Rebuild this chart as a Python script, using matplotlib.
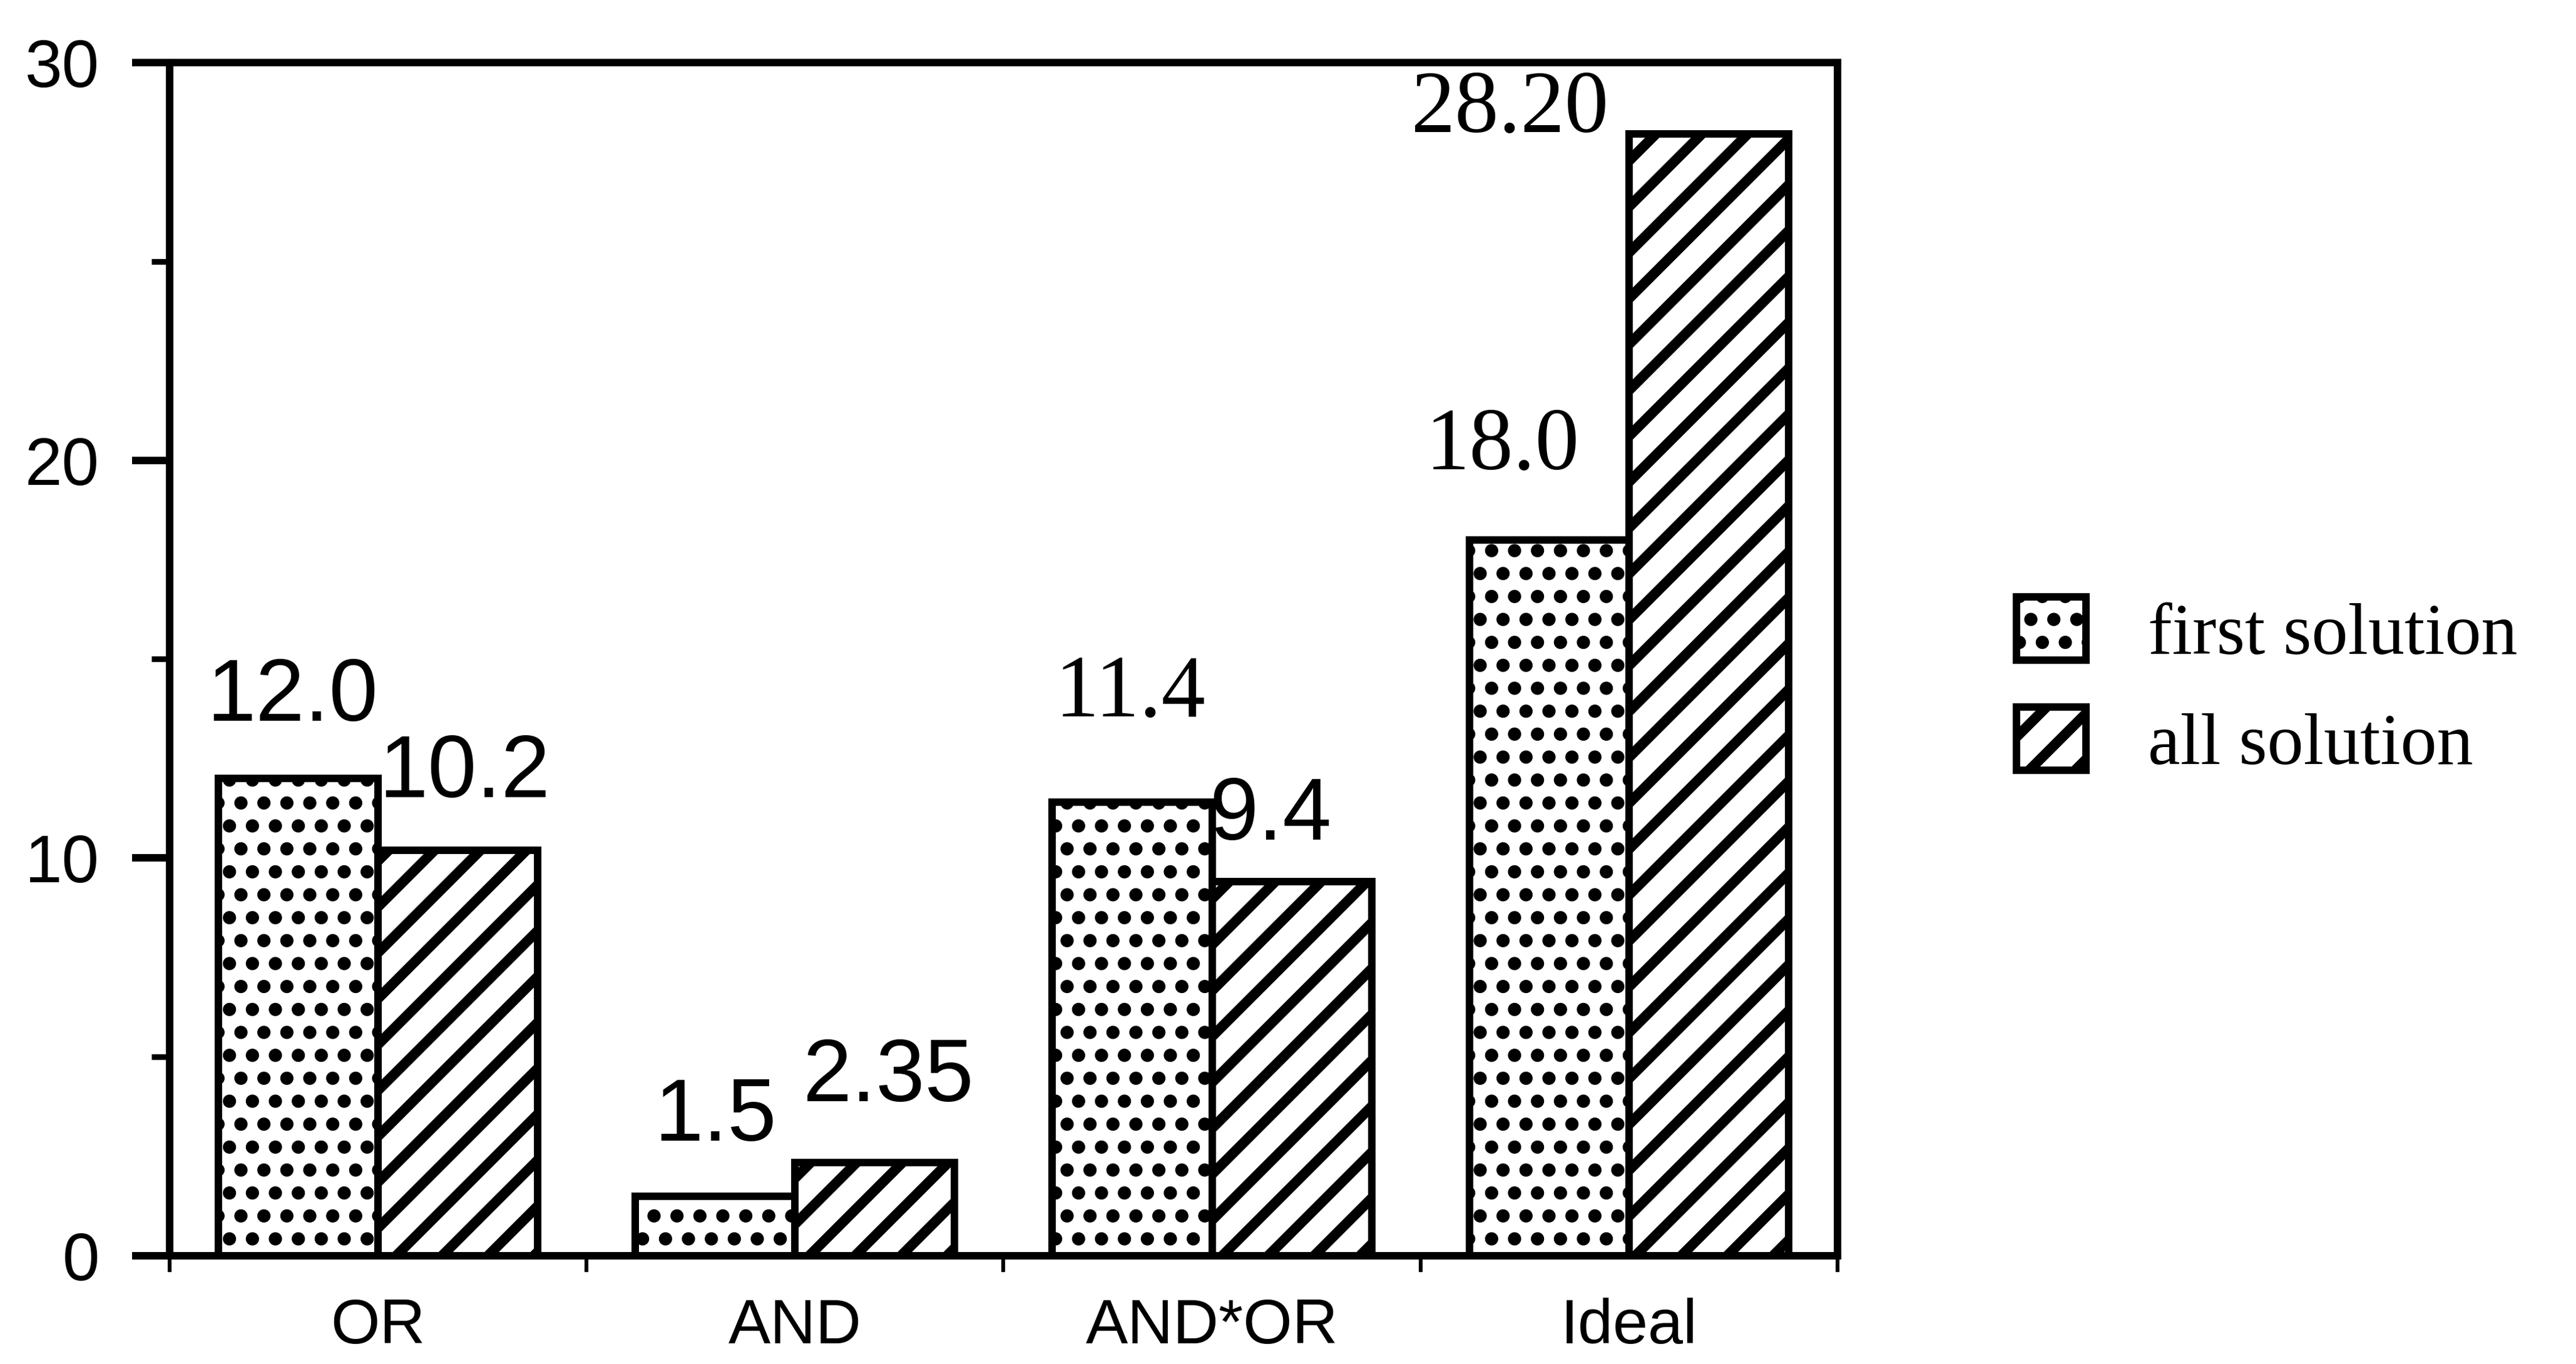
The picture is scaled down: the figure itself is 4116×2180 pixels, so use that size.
import numpy as np
import matplotlib
matplotlib.use("Agg")
import matplotlib.pyplot as plt
from matplotlib.ticker import MultipleLocator

categories = ["OR", "AND", "AND*OR", "Ideal"]
first_solution = [12.0, 1.5, 11.4, 18.0]
all_solution = [10.2, 2.35, 9.4, 28.2]
first_decimals = [1, 1, 1, 1]
all_decimals = [1, 2, 1, 2]
y_ticks = [0, 10, 20, 30]

# label placement: (dx, dy) in points from the top centre of each bar, and typeface
first_offsets = [(-3, 30), (0, 29), (-1, 45), (-24.5, 37)]
all_offsets = [(3.6, 27.5), (7, 32), (-11, 22), (-104, 1)]
first_fonts = ["Liberation Sans", "Liberation Sans", "Liberation Serif", "Liberation Serif"]
all_fonts = ["Liberation Sans", "Liberation Sans", "Liberation Sans", "Liberation Serif"]

DPI = 220
plt.rcParams["hatch.color"] = "black"

fig = plt.figure(figsize=(4116 / DPI, 2180 / DPI), dpi=DPI)
ax = fig.add_axes([0.0658, 0.0794, 0.6475, 0.8748])

x = np.arange(len(categories))
w = 0.383
lw = 3.9
dot_lw, stripe_lw = 4.5, 5.3


def hatched_bars(xs, heights, hatch, hatch_lw, label):
    with plt.rc_context({"hatch.linewidth": hatch_lw}):
        bars = ax.bar(xs, heights, w, color="white", edgecolor="black",
                      linewidth=lw, hatch=hatch, label=label)
    for p in bars:
        if hasattr(p, "set_hatch_linewidth"):
            p.set_hatch_linewidth(hatch_lw)
    return bars


b1 = hatched_bars(x - w / 2, first_solution, ".", dot_lw, "first solution")
b2 = hatched_bars(x + w / 2, all_solution, "/", stripe_lw, "all solution")

for bars, vals, decs, offs, fonts in [
        (b1, first_solution, first_decimals, first_offsets, first_fonts),
        (b2, all_solution, all_decimals, all_offsets, all_fonts)]:
    for rect, v, d, (dx, dy), fam in zip(bars, vals, decs, offs, fonts):
        ax.annotate(f"{v:.{d}f}", (rect.get_x() + rect.get_width() / 2, v),
                    xytext=(dx, dy), textcoords="offset points",
                    ha="center", va="baseline", fontsize=46, family=fam)

ax.set_xlim(-0.5, 3.5)
ax.set_ylim(0, 30)

ax.set_xticks(x)
ax.set_xticklabels(categories, fontsize=33, family="Liberation Sans")
ax.set_xticks(np.arange(-0.5, 4, 1), minor=True)
ax.tick_params(axis="x", which="major", length=0, pad=22)
ax.tick_params(axis="x", which="minor", length=8.5, width=2, direction="out")

ax.set_yticks(y_ticks)
ax.yaxis.set_minor_locator(MultipleLocator(5))
ax.tick_params(axis="y", which="major", length=19.6, width=lw, pad=17, labelsize=35)
ax.tick_params(axis="y", which="minor", length=9.5, width=3)
for lab in ax.get_yticklabels():
    lab.set_family("Liberation Sans")

for sp in ax.spines.values():
    sp.set_linewidth(lw)

leg = ax.legend(handles=[b1, b2], loc="center left",
                bbox_to_anchor=(3222 / 4116, 1 - 1100 / 2180),
                bbox_transform=fig.transFigure, frameon=False,
                prop={"family": "Liberation Serif", "size": 38},
                handlelength=0.96, handleheight=0.96, handletextpad=0.85,
                labelspacing=0.52, borderpad=0, borderaxespad=0)
for h, hlw in zip(leg.legend_handles, [dot_lw, stripe_lw]):
    if hasattr(h, "set_hatch_linewidth"):
        h.set_hatch_linewidth(hlw)

fig.savefig("out.png", dpi=DPI)
